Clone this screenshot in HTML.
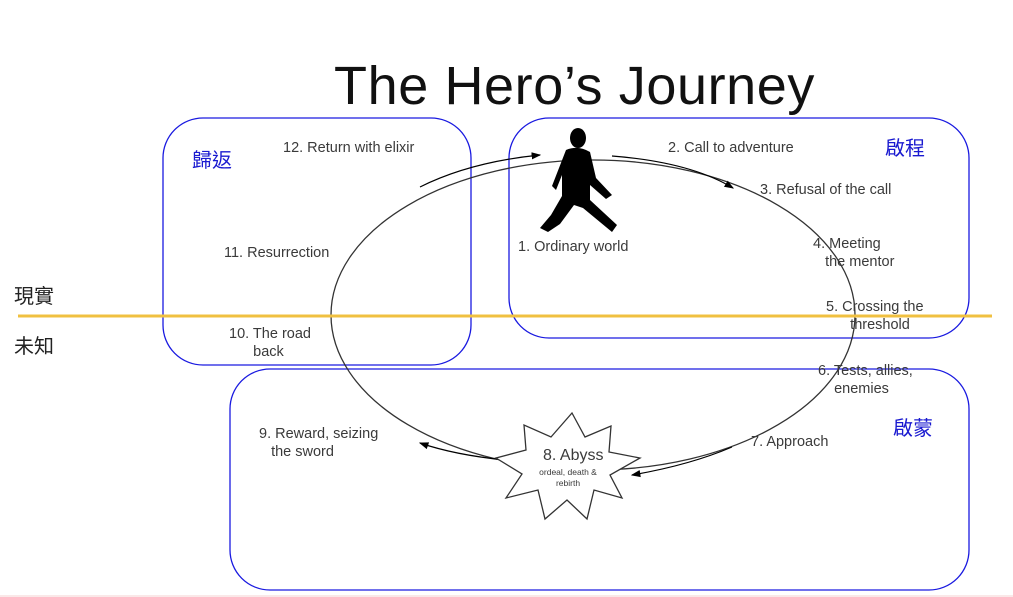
<!DOCTYPE html>
<html><head><meta charset="utf-8"><style>
body{margin:0;background:#fff;width:1013px;height:597px;overflow:hidden;position:relative;font-family:"Liberation Sans","Noto Sans CJK TC",sans-serif}
.t{position:absolute;font-size:14.5px;color:#3a3a3a;line-height:18px;white-space:nowrap}
.c{position:absolute;font-size:20px;color:#1a1ad0;font-family:"Liberation Sans","Noto Sans CJK TC",sans-serif}
</style></head><body>
<svg width="1013" height="597" style="position:absolute;left:0;top:0">
<defs><marker id="a" markerWidth="8" markerHeight="8" refX="7" refY="4" orient="auto"><path d="M0,1 L8,4 L0,7z" fill="#000"/></marker></defs>
<rect x="163" y="118" width="308" height="247" rx="40" fill="none" stroke="#1a1ae0" stroke-width="1.3"/>
<rect x="509" y="118" width="460" height="220" rx="40" fill="none" stroke="#1a1ae0" stroke-width="1.3"/>
<rect x="230" y="369" width="739" height="221" rx="40" fill="none" stroke="#1a1ae0" stroke-width="1.3"/>
<ellipse cx="593" cy="315" rx="262" ry="155" fill="none" stroke="#333" stroke-width="1.3"/>
<line x1="18" y1="316" x2="992" y2="316" stroke="#f0c040" stroke-width="3"/>
<line x1="0" y1="596" x2="1013" y2="596" stroke="#f6d0d0" stroke-width="1"/>
<path d="M420,187 Q470,162 540,155" fill="none" stroke="#000" stroke-width="1.2" marker-end="url(#a)"/>
<path d="M612,156 Q690,162 733,188" fill="none" stroke="#000" stroke-width="1.2" marker-end="url(#a)"/>
<path d="M732,447 Q690,465 632,475" fill="none" stroke="#000" stroke-width="1.2" marker-end="url(#a)"/>
<path d="M505,460 Q455,455 420,443" fill="none" stroke="#000" stroke-width="1.2" marker-end="url(#a)"/>
<polygon points="572,413 585,437 611,426 609,452 640,458 610,475 622,498 594,490 587,519 567,500 545,519 538,490 506,498 522,474 496,458 526,450 524,425 551,437" fill="#fff" stroke="#333" stroke-width="1.3"/>
<g fill="#000">
<ellipse cx="578" cy="138" rx="8" ry="10"/>
<path d="M566,150 Q578,145 590,152 L596,178 L612,195 L606,199 L590,185 L590,200 L617,225 L612,232 L583,208 L574,205 L560,224 L548,232 L540,228 L551,215 L562,196 L562,175 L556,190 L552,186 Z"/>
</g>
</svg>
<div style="position:absolute;left:334px;top:55px;font-size:54px;color:#111;letter-spacing:0.6px">The Hero’s Journey</div>
<div class="c" style="left:192px;top:144px">歸返</div>
<div class="c" style="left:885px;top:132px">啟程</div>
<div class="c" style="left:893px;top:412px">啟蒙</div>
<div style="position:absolute;left:14px;top:280px;font-size:20px;color:#222">現實</div>
<div style="position:absolute;left:14px;top:330px;font-size:20px;color:#222">未知</div>
<div class="t" style="left:283px;top:139px">12. Return with elixir</div>
<div class="t" style="left:668px;top:139px">2. Call to adventure</div>
<div class="t" style="left:760px;top:181px">3. Refusal of the call</div>
<div class="t" style="left:224px;top:244px">11. Resurrection</div>
<div class="t" style="left:518px;top:238px">1. Ordinary world</div>
<div class="t" style="left:813px;top:235px">4. Meeting<br>&nbsp;&nbsp;&nbsp;the mentor</div>
<div class="t" style="left:826px;top:298px">5. Crossing the<br>&nbsp;&nbsp;&nbsp;&nbsp;&nbsp;&nbsp;threshold</div>
<div class="t" style="left:229px;top:325px">10. The road<br>&nbsp;&nbsp;&nbsp;&nbsp;&nbsp;&nbsp;back</div>
<div class="t" style="left:818px;top:362px">6. Tests, allies,<br>&nbsp;&nbsp;&nbsp;&nbsp;enemies</div>
<div class="t" style="left:259px;top:425px">9. Reward, seizing<br>&nbsp;&nbsp;&nbsp;the sword</div>
<div class="t" style="left:751px;top:433px">7. Approach</div>
<div class="t" style="left:543px;top:447px;font-size:16px">8. Abyss</div>
<div class="t" style="left:538px;top:467px;font-size:8.5px;line-height:11px;text-align:center;width:60px">ordeal, death &amp;<br>rebirth</div>
</body></html>
